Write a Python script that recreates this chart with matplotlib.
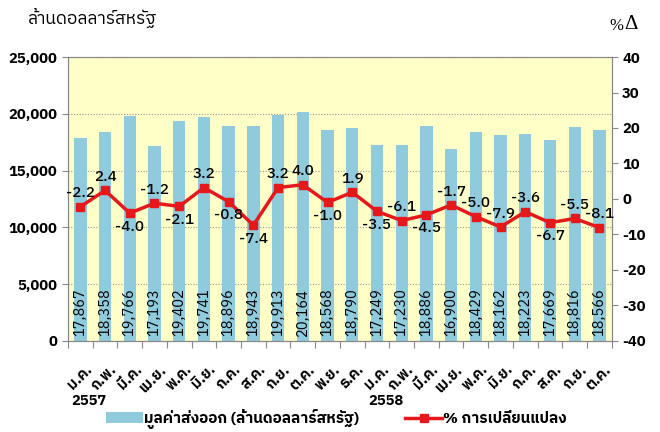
import matplotlib
matplotlib.use('Agg')
import matplotlib.pyplot as plt
from matplotlib.lines import Line2D
from matplotlib.patches import Patch

plt.rcParams['font.family'] = ['IBM Plex Sans Thai', 'Noto Sans Thai', 'DejaVu Sans']

months = ['ม.ค.', 'ก.พ.', 'มี.ค.', 'เม.ย.', 'พ.ค.', 'มิ.ย.', 'ก.ค.', 'ส.ค.', 'ก.ย.', 'ต.ค.', 'พ.ย.', 'ธ.ค.',
          'ม.ค.', 'ก.พ.', 'มี.ค.', 'เม.ย.', 'พ.ค.', 'มิ.ย.', 'ก.ค.', 'ส.ค.', 'ก.ย.', 'ต.ค.']
years = {0: '2557', 12: '2558'}
export_value = [17867, 18358, 19766, 17193, 19402, 19741, 18896, 18943, 19913, 20164, 18568, 18790,
                17249, 17230, 18886, 16900, 18429, 18162, 18223, 17669, 18816, 18566]
pct_change = [-2.2, 2.4, -4.0, -1.2, -2.1, 3.2, -0.8, -7.4, 3.2, 4.0, -1.0, 1.9,
              -3.5, -6.1, -4.5, -1.7, -5.0, -7.9, -3.6, -6.7, -5.5, -8.1]
# label above (1) or below (-1) the point
label_side = [1, 1, -1, 1, -1, 1, -1, -1, 1, 1, -1, 1,
              -1, 1, -1, 1, 1, 1, 1, -1, 1, 1]

BAR_COLOR = '#8FCADD'
LINE_COLOR = '#E5191C'
BG_COLOR = '#FFFFC8'

fig = plt.figure(figsize=(6.6, 4.32), dpi=100)
ax = fig.add_axes([0.103, 0.211, 0.824, 0.657])
ax2 = ax.twinx()

x = list(range(len(months)))
ax.set_facecolor(BG_COLOR)
ax.bar(x, export_value, width=0.5, color=BAR_COLOR, zorder=2)
for i, v in enumerate(export_value):
    ax.text(i, 450, '{:,}'.format(v), rotation=90, ha='center', va='bottom', fontsize=10.5,
            color='black', zorder=3)

ax.set_ylim(0, 25000)
ax.set_xlim(-0.5, len(months) - 0.5)
ax.set_yticks(range(0, 25001, 5000))
ax.set_yticklabels(['{:,}'.format(t) for t in range(0, 25001, 5000)], fontsize=10.5, fontweight='bold')
ax.yaxis.grid(True, color='#999999', linestyle=(0, (1, 1.5)), linewidth=0.8)
ax.set_axisbelow(True)

ax.set_xticks([i - 0.5 for i in range(len(months) + 1)])
ax.set_xticklabels([])
ax.tick_params(axis='x', length=5, color='#888888')
ax.tick_params(axis='y', length=4, color='#888888')
for i, m in enumerate(months):
    ax.text(i + 0.2, -1900, m, rotation=45, ha='right', va='top', fontsize=10.5, fontweight='bold',
            rotation_mode='anchor')
for i, y in years.items():
    ax.text(i - 0.35, -4700, y, ha='left', va='top', fontsize=10.5, fontweight='bold')

ax2.plot(x, pct_change, color=LINE_COLOR, linewidth=2.5, marker='s', markersize=6, zorder=4)
for i, v in enumerate(pct_change):
    off = 1.8 if label_side[i] > 0 else -1.8
    ax2.text(i, v + off, '{:.1f}'.format(v), ha='center', va='bottom' if off > 0 else 'top',
             fontsize=11, fontweight='medium', color='black', zorder=5)
ax2.set_ylim(-40, 40)
ax2.set_yticks(range(-40, 41, 10))
ax2.set_yticklabels([str(t) for t in range(-40, 41, 10)], fontsize=10.5, fontweight='bold')
ax2.tick_params(axis='y', length=4, color='#888888')

for a in (ax, ax2):
    for s in a.spines.values():
        s.set_color('#888888')

fig.text(0.042, 0.935, 'ล้านดอลลาร์สหรัฐ', fontsize=12.5, ha='left', va='bottom')
fig.text(0.924, 0.94, '%', family='Liberation Serif', fontsize=12, ha='left', va='center')
fig.text(0.946, 0.943, 'Δ', family='Liberation Serif', fontsize=15, ha='left', va='center')

handles = [Patch(facecolor=BAR_COLOR, edgecolor='none'),
           Line2D([], [], color=LINE_COLOR, linewidth=2.5, marker='s', markersize=6)]
fig.legend(handles, ['มูลค่าส่งออก (ล้านดอลลาร์สหรัฐ)', '% การเปลี่ยนแปลง'], loc='center',
           bbox_to_anchor=(0.51, 0.03), ncol=2, frameon=False, handlelength=2.4, columnspacing=3,
           handletextpad=0.1, prop={'size': 11, 'weight': 'bold'})

fig.savefig('out.png')
